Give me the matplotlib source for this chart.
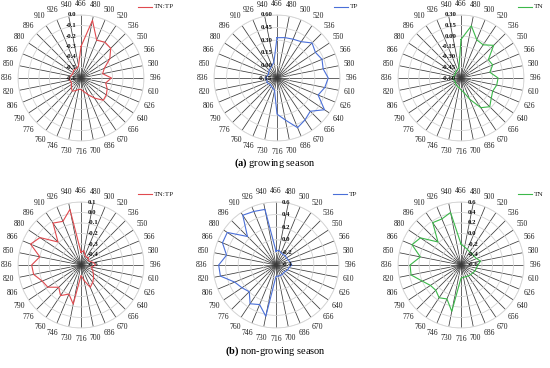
import numpy as np
import matplotlib
matplotlib.use("Agg")
import matplotlib.pyplot as plt
from matplotlib.transforms import offset_copy

plt.rcParams['font.family'] = ['Liberation Serif', 'DejaVu Serif']
plt.rcParams['mathtext.fontset'] = 'custom'
plt.rcParams['mathtext.rm'] = 'Liberation Serif'
plt.rcParams['mathtext.bf'] = 'Liberation Serif:bold'

categories = [466, 480, 500, 520, 536, 550, 566, 580, 596, 610, 626, 640, 656, 670, 686, 700,
              716, 730, 746, 760, 776, 790, 806, 820, 836, 850, 866, 880, 896, 910, 926, 940]

# (a) growing season
a_tntp = [-0.30, -0.04, -0.21, -0.19, -0.20, -0.27, -0.36, -0.39, -0.31, -0.36, -0.33, -0.31, -0.30, -0.37, -0.43, -0.47,
          -0.49, -0.49, -0.47, -0.45, -0.47, -0.49, -0.50, -0.49, -0.49, -0.50, -0.51, -0.51, -0.50, -0.50, -0.50, -0.48]
a_tp = [0.33, 0.34, 0.35, 0.37, 0.44, 0.40, 0.43, 0.41, 0.46, 0.43, 0.38, 0.53, 0.41, 0.45, 0.49, 0.36,
        0.28, 0.00, -0.02, -0.03, -0.04, -0.03, -0.02, -0.03, -0.01, -0.03, -0.04, -0.03, -0.02, -0.01, 0.01, 0.04]
a_tn = [-0.05, 0.16, -0.01, -0.03, 0.06, -0.13, -0.11, -0.18, -0.07, -0.08, -0.11, -0.08, -0.02, -0.09, -0.27, -0.39,
        -0.43, -0.46, -0.47, -0.48, -0.49, -0.50, -0.50, -0.49, -0.48, -0.49, -0.50, -0.50, -0.49, -0.48, -0.47, -0.45]

# (b) non-growing season
b_tntp = [-0.38, -0.36, -0.40, -0.41, -0.40, -0.42, -0.41, -0.38, -0.36, -0.40, -0.38, -0.36, -0.33, -0.30, -0.27, -0.35,
          -0.40, -0.12, -0.20, -0.15, -0.20, -0.12, -0.10, -0.04, -0.03, -0.10, 0.02, -0.03, -0.19, -0.02, -0.05, 0.04]
b_tp = [-0.18, -0.16, -0.19, -0.20, -0.19, -0.20, -0.19, -0.17, -0.15, -0.19, -0.20, -0.22, -0.23, -0.22, -0.22, -0.22,
        -0.22, 0.43, 0.28, 0.34, 0.20, 0.25, 0.31, 0.50, 0.51, 0.40, 0.52, 0.53, 0.24, 0.55, 0.52, 0.50]
b_tn = [-0.20, -0.25, -0.28, -0.30, -0.30, -0.30, -0.28, -0.22, -0.28, -0.30, -0.31, -0.33, -0.34, -0.35, -0.36, -0.36,
        -0.35, 0.30, 0.10, 0.15, 0.08, 0.10, 0.20, 0.37, 0.37, 0.19, 0.41, 0.33, 0.02, 0.37, 0.35, 0.42]

# radial ticks
ticks_a_tntp = [-0.6, -0.5, -0.4, -0.3, -0.2, -0.1, 0.0]
ticks_a_tp = [-0.15, 0.00, 0.15, 0.30, 0.45, 0.60]
ticks_a_tn = [-0.60, -0.45, -0.30, -0.15, 0.00, 0.15, 0.30]
ticks_b_tntp = [-0.5, -0.4, -0.3, -0.2, -0.1, 0.0, 0.1]
ticks_b_tp = [-0.4, -0.2, 0.0, 0.2, 0.4, 0.6]
ticks_b_tn = [-0.6, -0.4, -0.2, 0.0, 0.2, 0.4, 0.6]

W, H = 550, 368
fig = plt.figure(figsize=(W / 100, H / 100), dpi=100)

R = 63  # px radius
N = len(categories)
theta = np.linspace(0, 2 * np.pi, N, endpoint=False)


def panel(cx, cy, values, ticks, fmt, color, name, label_side):
    ax = fig.add_axes([(cx - R) / W, (H - cy - R) / H, 2 * R / W, 2 * R / H], projection='polar')
    ax.set_theta_zero_location('N')
    ax.set_theta_direction(-1)
    ax.set_ylim(ticks[0], ticks[-1])
    ax.set_yticks(ticks)
    ax.set_yticklabels([])
    ax.set_xticks(theta)
    ax.set_xticklabels([])
    ax.tick_params(length=0)
    ax.grid(axis='y', color='#d4d4d4', lw=0.6)
    ax.grid(axis='x', color='#3a3a3a', lw=0.55)
    ax.spines['polar'].set_color('#d4d4d4')
    ax.spines['polar'].set_linewidth(0.6)
    ax.set_facecolor('none')
    th = np.concatenate([theta, theta[:1]])
    v = np.concatenate([values, values[:1]])
    ax.plot(th, v, color=color, lw=0.8, zorder=5)
    span = ticks[-1] - ticks[0]
    for t, c in zip(theta, categories):
        ax.text(t, ticks[-1] + span * 0.175, str(c), ha='center', va='center',
                fontsize=5.5, color='#222222', clip_on=False)
    if label_side == 'left':
        tr = offset_copy(ax.transData, fig=fig, x=-3.5, y=0, units='points')
        ha = 'right'
    else:
        tr = offset_copy(ax.transData, fig=fig, x=4.5, y=0, units='points')
        ha = 'left'
    for tk in ticks:
        ax.text(0, tk, fmt.format(tk), transform=tr, ha=ha, va='center', fontsize=4.9,
                fontweight='bold', color='#111111', zorder=6)
    # legend
    lx = cx + 57
    ly = cy - 71
    fig.add_artist(plt.Line2D([lx / W, (lx + 14) / W], [(H - ly) / H, (H - ly) / H], color=color, lw=0.8))
    fig.text((lx + 16) / W, (H - ly) / H, name, ha='left', va='center', fontsize=5.3, color='#222222')
    return ax


panel(81, 78, a_tntp, ticks_a_tntp, '{:.1f}', '#e04a4f', 'TN:TP', 'left')
panel(277, 78, a_tp, ticks_a_tp, '{:.2f}', '#4a6fd8', 'TP', 'left')
panel(461, 78, a_tn, ticks_a_tn, '{:.2f}', '#3cb84a', 'TN', 'left')
panel(81, 265, b_tntp, ticks_b_tntp, '{:.1f}', '#e04a4f', 'TN:TP', 'right')
panel(276, 265, b_tp, ticks_b_tp, '{:.1f}', '#4a6fd8', 'TP', 'right')
panel(461, 265, b_tn, ticks_b_tn, '{:.1f}', '#3cb84a', 'TN', 'right')

fig.text(0.5, 1 - 163 / H, r'$\mathbf{(a)}$ growing season', ha='center', va='center', fontsize=7.5)
fig.text(0.5, 1 - 351 / H, r'$\mathbf{(b)}$ non-growing season', ha='center', va='center', fontsize=7.5)

fig.savefig('out.png', dpi=100)
